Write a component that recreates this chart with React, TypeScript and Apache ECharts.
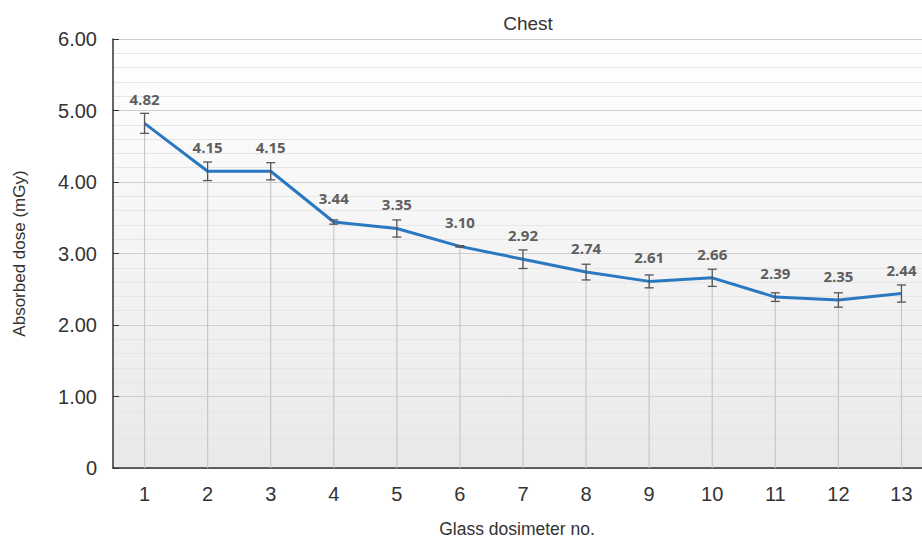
import React, { useEffect, useRef } from "react";
import * as echarts from "echarts";

const categories = ["1", "2", "3", "4", "5", "6", "7", "8", "9", "10", "11", "12", "13"];
const doses = [4.82, 4.15, 4.15, 3.44, 3.35, 3.1, 2.92, 2.74, 2.61, 2.66, 2.39, 2.35, 2.44];
const errors = [0.14, 0.13, 0.12, 0.03, 0.12, 0.01, 0.13, 0.11, 0.09, 0.12, 0.06, 0.1, 0.12];
const chartTitle = "Chest";
const yName = "Absorbed dose (mGy)";
const xName = "Glass dosimeter no.";

const axisFont = "'Liberation Sans', Arial, sans-serif";

export default function App() {
  const ref = useRef<HTMLDivElement>(null);
  useEffect(() => {
    if (!ref.current) return;
    const chart = echarts.init(ref.current, undefined, { renderer: "svg" });
    const errData = doses.map((d, i) => [i, d, errors[i]]);
    chart.setOption({
      animation: false,
      backgroundColor: "#ffffff",
      title: {
        text: chartTitle,
        left: 523,
        top: 9,
        textAlign: "center",
        textStyle: { fontFamily: axisFont, fontSize: 19, fontWeight: "normal", color: "#333" },
      },
      grid: {
        left: 113,
        width: 820,
        top: 39,
        height: 429,
        outerBoundsMode: "none",
        containLabel: false,
        show: true,
        borderWidth: 0,
        backgroundColor: new echarts.graphic.LinearGradient(0, 0, 0, 1, [
          { offset: 0, color: "#ffffff" },
          { offset: 1, color: "#e9e9e9" },
        ]),
      },
      xAxis: {
        type: "category",
        data: categories,
        boundaryGap: true,
        name: xName,
        nameLocation: "middle",
        nameGap: 52,
        nameTextStyle: { fontFamily: axisFont, fontSize: 17.5, color: "#333", padding: [0, 12, 0, 0] },
        axisLine: { lineStyle: { color: "#333", width: 1.5 } },
        axisTick: { alignWithLabel: true, inside: true, length: 7, lineStyle: { color: "#333" } },
        axisLabel: { fontFamily: axisFont, fontSize: 20, color: "#333", margin: 16 },
        splitLine: { show: false },
      },
      yAxis: {
        type: "value",
        min: 0,
        max: 6,
        interval: 1,
        name: yName,
        nameLocation: "middle",
        nameGap: 85,
        nameTextStyle: { fontFamily: axisFont, fontSize: 17, color: "#333" },
        axisLine: { show: true, lineStyle: { color: "#333", width: 1.5 } },
        axisTick: { show: true, inside: true, length: 6, lineStyle: { color: "#333" } },
        axisLabel: {
          fontFamily: axisFont,
          fontSize: 20,
          color: "#333",
          margin: 16,
          formatter: (v: number) => (v === 0 ? "0" : v.toFixed(2)),
        },
        splitLine: { show: true, lineStyle: { color: "#cfcfcf", width: 1.2 } },
        minorTick: { show: false, splitNumber: 5 },
        minorSplitLine: { show: true, lineStyle: { color: "#e6e6e6", width: 1 } },
      },
      series: [
        {
          type: "custom",
          z: 1,
          data: errData,
          encode: { x: 0, y: 1 },
          silent: true,
          renderItem: (params: any, api: any) => {
            const x = api.value(0);
            const y = api.value(1);
            const p0 = api.coord([x, 0]);
            const p1 = api.coord([x, y]);
            return {
              type: "line",
              shape: { x1: p0[0], y1: p0[1], x2: p1[0], y2: p1[1] },
              style: { stroke: "#c8c8c8", lineWidth: 1.2 },
            };
          },
        },
        {
          type: "line",
          z: 3,
          data: doses,
          showSymbol: true,
          symbol: "circle",
          symbolSize: 1,
          itemStyle: { color: "rgba(0,0,0,0)" },
          lineStyle: { color: "#2b78c2", width: 3 },
          label: {
            show: true,
            position: "top",
            distance: 16,
            fontFamily: "'Open Sans', sans-serif",
            fontWeight: "bold",
            fontSize: 15,
            color: "#5e5e5e",
            formatter: (p: any) => Number(p.value).toFixed(2),
          },
        },
        {
          type: "custom",
          z: 4,
          data: errData,
          encode: { x: 0, y: 1 },
          silent: true,
          renderItem: (params: any, api: any) => {
            const x = api.value(0);
            const y = api.value(1);
            const e = api.value(2);
            const top = api.coord([x, y + e]);
            const bot = api.coord([x, y - e]);
            const hw = 4.5;
            const st = { stroke: "#555", lineWidth: 1.3 };
            return {
              type: "group",
              children: [
                { type: "line", shape: { x1: top[0], y1: top[1], x2: bot[0], y2: bot[1] }, style: st },
                { type: "line", shape: { x1: top[0] - hw, y1: top[1], x2: top[0] + hw, y2: top[1] }, style: st },
                { type: "line", shape: { x1: bot[0] - hw, y1: bot[1], x2: bot[0] + hw, y2: bot[1] }, style: st },
              ],
            };
          },
        },
      ],
    });
    return () => chart.dispose();
  }, []);
  return (
    <div
      ref={ref}
      style={{ position: "absolute", left: 0, top: 0, width: 922, height: 538 }}
    />
  );
}
